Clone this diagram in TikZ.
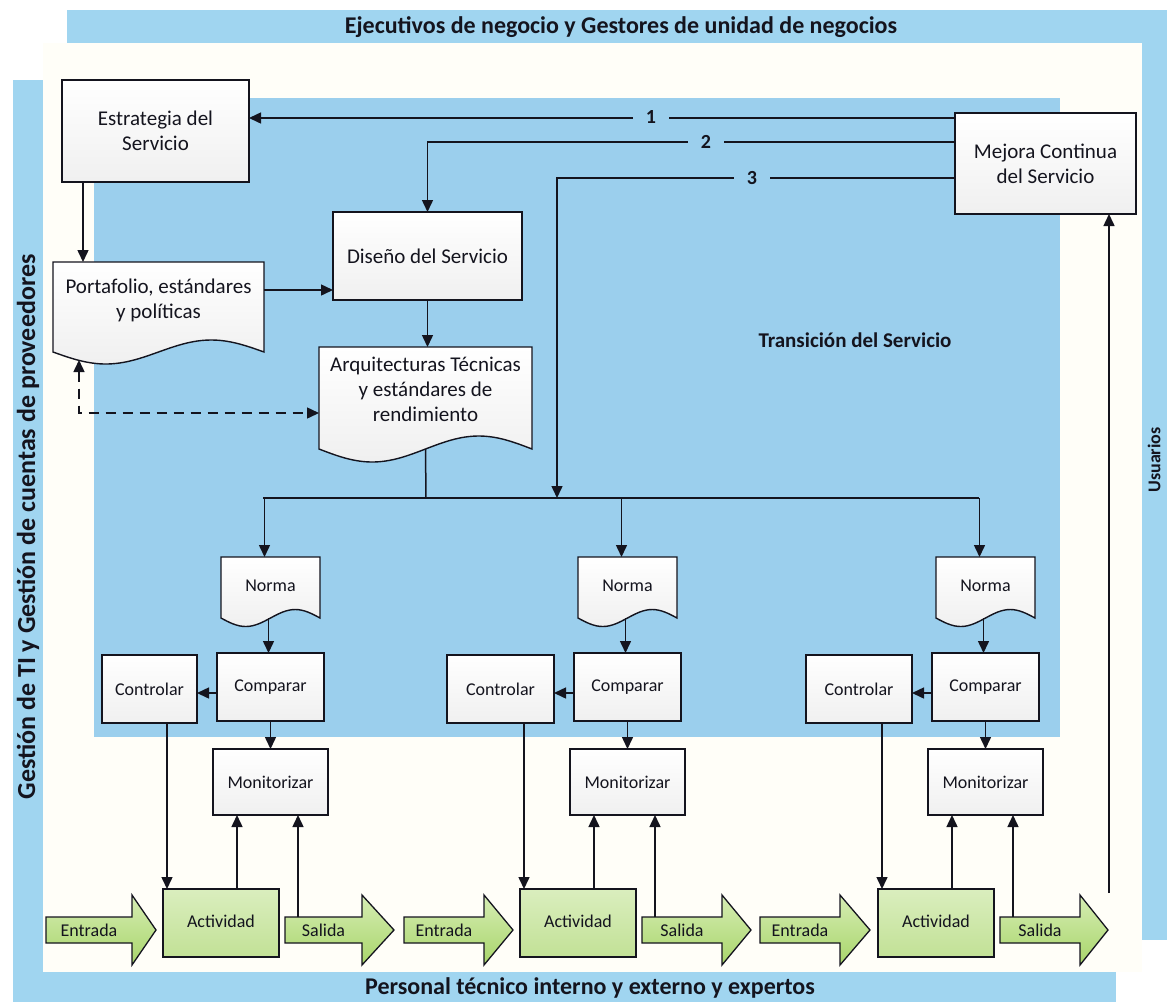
\documentclass[tikz,border=0pt]{standalone}
\usepackage{fontspec}
\setmainfont{Carlito}
\usetikzlibrary{arrows.meta}

\definecolor{band}{RGB}{160,213,240}
\definecolor{inner}{RGB}{155,207,237}
\definecolor{ink}{RGB}{20,20,30}
\definecolor{cream}{RGB}{255,254,248}
\definecolor{actTop}{RGB}{218,238,190}
\definecolor{actBot}{RGB}{194,225,150}
\definecolor{arrTop}{RGB}{214,237,180}
\definecolor{arrBot}{RGB}{168,213,106}

% document symbol: flat top, wavy bottom
\newcommand\docshape[5]{% left, top, right, bottom corner, wave amplitude
  \path[doc] (#1,#4) -- (#1,#2) -- (#3,#2) -- (#3,#4)
    sin ({(#3)-((#3)-(#1))/4},{(#4)-(#5)})
    cos ({((#1)+(#3))/2},{#4})
    sin ({(#1)+((#3)-(#1))/4},{(#4)+(#5)})
    cos (#1,#4) -- cycle;}

% wide green flow arrow with its label node
\newcommand\fatarrow[5]{% name, tail x, head base x, tip x, text
  \path[bigarrow] (#2,917) -- (#3,917) -- (#3,895) -- (#4,930) -- (#3,965)
    -- (#3,943) -- (#2,943) -- cycle;
  \node[flowtext, minimum width={((#3)-(#2))*1pt}, minimum height=26pt]
    (#1) at ({((#2)+(#3))/2},930) {#5};}

\begin{document}
\begin{tikzpicture}[x=1pt,y=-1pt,
  every node/.style={outer sep=0pt, inner sep=0pt, text=ink},
  box/.style={draw=ink, line width=1.4pt, top color=white, bottom color=black!6,
    align=center, font=\fontsize{21}{25}\selectfont},
  smallbox/.style={box, font=\fontsize{18}{21}\selectfont},
  actbox/.style={draw=ink, line width=1.4pt, top color=actTop, bottom color=actBot,
    font=\fontsize{18}{21}\selectfont},
  doc/.style={draw=ink, line width=1.4pt, top color=white, bottom color=black!6},
  doctext/.style={align=center, font=\fontsize{21}{25}\selectfont},
  flowtext/.style={font=\fontsize{18}{21}\selectfont},
  bigarrow/.style={draw=ink, line width=1.3pt, top color=arrTop, bottom color=arrBot},
  conn/.style={draw=ink, line width=1.5pt, -{Triangle[length=12pt,width=11pt]}},
  plain/.style={draw=ink, line width=1.5pt},
  dashconn/.style={draw=ink, line width=1.5pt, dash pattern=on 10pt off 7pt,
    {Triangle[length=12pt,width=11pt]}-{Triangle[length=12pt,width=11pt]}},
  bandtext/.style={font=\fontsize{24}{28}\selectfont\bfseries},
  num/.style={fill=inner, inner xsep=13pt, inner ysep=3pt,
    font=\fontsize{20}{24}\selectfont\bfseries},
]
\useasboundingbox (0,0) rectangle (1167,1002);

% background, outer bands and the inner service-transition area
\fill[white] (0,0) rectangle (1167,1002);
\fill[cream] (43,43) rectangle (1142,972);
\fill[band] (67,10) rectangle (1167,43);
\fill[band] (1142,10) rectangle (1167,940);
\fill[band] (13,80) rectangle (43,1002);
\fill[band] (13,972) rectangle (1116,1002);
\fill[inner] (94,98) rectangle (1060,737);

\node[bandtext] (topband) at (621,27) {Ejecutivos de negocio y Gestores de unidad de negocios};
\node[bandtext] (botband) at (590,988) {Personal técnico interno y externo y expertos};
\node[bandtext, rotate=90, font=\fontsize{26}{30}\selectfont\bfseries] (leftband) at (28,527) {Gestión de TI y Gestión de cuentas de proveedores};
\node[bandtext, rotate=90, font=\fontsize{18}{21}\selectfont\bfseries] (rightband) at (1154,460) {Usuarios};
\node[font=\fontsize{21}{25}\selectfont\bfseries] (trans) at (855,340) {Transición del Servicio};

% upper process boxes
\node[box, minimum width=187pt, minimum height=102pt] (estr) at (155.5,131) {Estrategia del\\Servicio};
\node[box, minimum width=181pt, minimum height=101pt] (mej) at (1045.5,163.5) {Mejora Continua\\del Servicio};
\node[box, minimum width=189pt, minimum height=88pt] (dis) at (427.5,256) {Diseño del Servicio};

% documents
\docshape{53}{262}{264}{352}{12}
\node[minimum width=211pt, minimum height=90pt] (port) at (158.5,307) {};
\node[doctext] (porttext) at (158.5,300) {Portafolio, estándares\\y políticas};
\docshape{319}{347}{532}{449}{13}
\node[minimum width=213pt, minimum height=102pt] (arq) at (425.5,398) {};
\node[doctext] (arqtext) at (425.5,389) {Arquitecturas Técnicas\\y estándares de\\rendimiento};

% upper connectors
\draw[conn] ([xshift=-72.5pt]estr.south) -- ([xshift=-72.5pt]estr.south |- port.north);
\draw[conn] ([yshift=-28pt]port.north east) -- ([yshift=-28pt]port.north east -| dis.west);
\draw[conn] (dis.south) -- (dis.south |- arq.north);
\coordinate (portwave) at (79,360);
\draw[dashconn] (portwave) |- ([yshift=-15pt]arq.west);

\coordinate (bus) at (426,498);
\coordinate (busL) at (263,498);
\coordinate (busR) at (979,498);
\coordinate (bus3) at (557,498);
\draw[plain] (arq.south) -- (bus);
\draw[plain] (busL) -- (busR);

\draw[conn] ([yshift=45.5pt]mej.west) -- ([yshift=13pt]estr.east);
\draw[conn] ([yshift=21.5pt]mej.west) -| (dis.north);
\draw[conn] ([yshift=-14.5pt]mej.west) -| (bus3);
\node[num] (n1) at (651,117) {1};
\node[num] (n2) at (706,142) {2};
\node[num] (n3) at (752,178) {3};

% three control loops
\foreach \c/\dx/\cx/\cw in {1/0/149.5/95, 2/357/500.5/107, 3/715/859/106}{
  \docshape{221+\dx}{557}{320+\dx}{618}{8.5}
  \node[minimum width=99pt, minimum height=61pt, font=\fontsize{18}{21}\selectfont]
    (norma\c) at ({270.5+\dx},587.5) {\raisebox{4pt}{Norma}};
  \node[smallbox, minimum width=107pt, minimum height=68pt] (comp\c) at ({270.5+\dx},687) {\raisebox{3pt}{Comparar}};
  \node[smallbox, minimum width=\cw pt, minimum height=68pt] (ctl\c) at (\cx,689) {Controlar};
  \node[smallbox, minimum width=115pt, minimum height=66pt] (mon\c) at ({270.5+\dx},782) {Monitorizar};
  \node[actbox, minimum width=116pt, minimum height=68pt] (act\c) at ({221+\dx},923) {\raisebox{3pt}{Actividad}};

  \draw[conn] ([xshift=-6pt]norma\c.north |- bus) -- ([xshift=-6pt]norma\c.north);
  \draw[conn] ([xshift=-2pt]norma\c.south) -- ([xshift=-2pt]norma\c.south |- comp\c.north);
  \draw[conn] ([yshift=-6pt]comp\c.west) -- ([yshift=-6pt]comp\c.west -| ctl\c.east);
  \draw[conn] (comp\c.south) -- (comp\c.south |- mon\c.north);
  \draw[conn] ([xshift=4pt]act\c.north west |- ctl\c.south) -- ([xshift=4pt]act\c.north west);
  \draw[conn] ([xshift=74pt]act\c.north west) -- ([xshift=74pt]act\c.north west |- mon\c.south);
}

% input / output flow arrows
\fatarrow{ent1}{46}{132}{156}{Entrada}
\fatarrow{sal1}{285}{362}{394}{Salida}
\fatarrow{ent2}{404}{484}{513}{Entrada}
\fatarrow{sal2}{642}{722}{751}{Salida}
\fatarrow{ent3}{760}{840}{870}{Entrada}
\fatarrow{sal3}{1000}{1080}{1108}{Salida}

\foreach \c in {1,2,3}{
  \draw[conn] ([xshift=13pt]sal\c.north west) -- ([xshift=13pt]sal\c.north west |- mon\c.south);
}

% feedback to continual improvement
\coordinate (upstart) at (1109,893);
\draw[conn] (upstart) -- (upstart |- mej.south);
\end{tikzpicture}
\end{document}
